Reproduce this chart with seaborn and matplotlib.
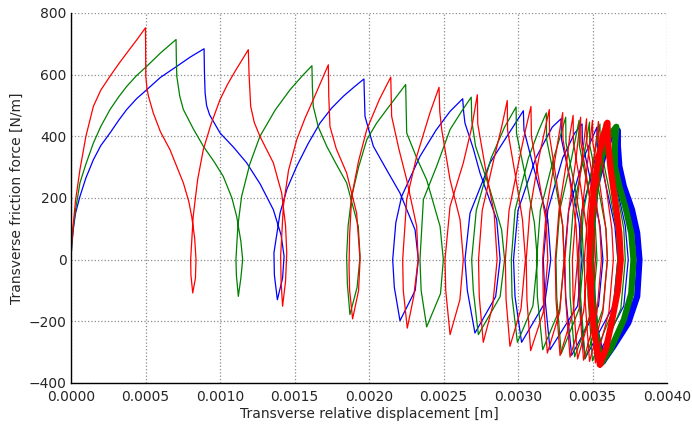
import matplotlib
matplotlib.use("Agg")
import matplotlib.pyplot as plt
import seaborn as sns
import pandas as pd

# ---------------- data (x [m], force [N/m]) ----------------
red_pts = [
    (0, 0), (0.000005, 60), (0.000016, 119), (0.00003, 190), (0.00006, 292), (0.0001, 400),
    (0.00015, 497), (0.0002, 550), (0.000262, 595), (0.00032, 635), (0.000374, 670),
    (0.00044, 712), (0.0005, 752),
    (0.000501, 680), (0.000502, 595), (0.00051, 555), (0.00052, 530), (0.000552, 476),
    (0.0006, 415), (0.000664, 357), (0.000754, 249), (0.00079, 190), (0.00081, 140),
    (0.00083, 70), (0.000839, 0), (0.000835, -60), (0.000817, -108),
    (0.000805, -50), (0.000803, 0), (0.00082, 140), (0.00085, 260), (0.000888, 357), (0.00094, 440),
    (0.001, 519), (0.00105, 568), (0.0011, 610), (0.00119, 681),
    (0.001195, 600), (0.001206, 497), (0.00123, 445), (0.001268, 400), (0.001358, 314),
    (0.001414, 216), (0.00144, 110), (0.001448, 22), (0.00144, -70), (0.00142, -151),
    (0.00141, -70), (0.001407, 11), (0.001425, 173), (0.00146, 290), (0.001515, 389),
    (0.00157, 458), (0.001626, 519), (0.001727, 632),
    (0.00173, 530), (0.001738, 432), (0.00178, 360), (0.00185, 281), (0.001917, 151),
    (0.00194, 0), (0.00193, -100), (0.00189, -192),
    (0.00187, -100), (0.001866, -20), (0.00187, 80), (0.001884, 205), (0.00193, 320),
    (0.001985, 422), (0.00207, 520), (0.002146, 592),
    (0.00215, 500), (0.002152, 465), (0.0022, 360), (0.002253, 259), (0.00232, 108),
    (0.00233, 0), (0.0023, -120), (0.002257, -222),
    (0.00223, -100), (0.002226, 0), (0.002253, 195), (0.00232, 335), (0.002409, 476), (0.00247, 559),
    (0.002475, 480), (0.002488, 422), (0.002544, 259), (0.002611, 130), (0.002633, 0),
    (0.00261, -130), (0.002544, -243),
    (0.002515, -100), (0.00251, 0), (0.002544, 173), (0.002633, 314), (0.00269, 430), (0.002727, 535),
    (0.00273, 440), (0.00278, 300), (0.00284, 150), (0.00286, 0), (0.00283, -150), (0.002767, -268),
    (0.00274, -120), (0.002735, 0), (0.00276, 160), (0.00284, 330), (0.00289, 430), (0.002928, 516),
    (0.00293, 420), (0.00298, 280), (0.00303, 130), (0.00305, 0), (0.00302, -160), (0.002946, -281),
    (0.00292, -130), (0.002915, 0), (0.00294, 160), (0.00301, 330), (0.00305, 420), (0.003087, 497),
    (0.00309, 400), (0.00314, 260), (0.00319, 120), (0.0032, 0), (0.00317, -170), (0.003085, -295),
    (0.00306, -130), (0.003055, 0), (0.00308, 160), (0.00314, 330), (0.00318, 420), (0.00321, 487),
    (0.003212, 400), (0.00326, 250), (0.0033, 110), (0.00331, 0), (0.00328, -170), (0.003197, -303),
    (0.00317, -130), (0.003165, 0), (0.00319, 160), (0.00325, 330), (0.00328, 420), (0.0033, 477),
    (0.003302, 390), (0.00335, 250), (0.00339, 110), (0.0034, 0), (0.00337, -170), (0.003282, -311),
    (0.003255, -130), (0.00325, 0), (0.003275, 160), (0.00333, 330), (0.00335, 410), (0.00337, 468),
    (0.003372, 380), (0.00342, 240), (0.00346, 100), (0.00347, 0), (0.00344, -170), (0.003349, -316),
    (0.00332, -130), (0.003315, 0), (0.00334, 160), (0.00339, 330), (0.00342, 462),
    (0.003422, 380), (0.00347, 240), (0.00351, 100), (0.00352, 0), (0.00349, -170), (0.0034, -322),
    (0.00337, -130), (0.003365, 0), (0.00339, 160), (0.00343, 330), (0.00346, 457),
    (0.003462, 380), (0.00351, 240), (0.00355, 100), (0.00356, 0), (0.00353, -170), (0.00344, -326),
    (0.00341, -130), (0.003405, 0), (0.00343, 160), (0.00347, 330), (0.0035, 452),
    (0.003502, 380), (0.00355, 240), (0.00359, 100), (0.0036, 0), (0.00357, -170), (0.00348, -330),
    (0.00345, -130), (0.003445, 0), (0.00347, 160), (0.00351, 330), (0.00354, 448),
    (0.003542, 380), (0.00359, 240), (0.00363, 100), (0.00364, 0), (0.00361, -170), (0.00352, -335),
    (0.00349, -130), (0.003485, 0), (0.00351, 160), (0.00355, 330), (0.00358, 446),
    (0.003582, 380), (0.00363, 240), (0.00367, 100), (0.00368, 0), (0.00365, -170), (0.00355, -338),
]
red_band = [
    (0.00355, -340), (0.00351, -230), (0.00349, -120), (0.00348, 0), (0.00349, 120), (0.00351, 230),
    (0.00354, 330), (0.00357, 400), (0.0036, 444), (0.003605, 380), (0.00362, 300), (0.00364, 230),
    (0.00366, 162), (0.00368, 86), (0.00369, 0), (0.00367, -100), (0.00363, -200), (0.00359, -290),
    (0.00355, -340),
]

green_pts = [
    (0, 0), (0.000005, 50), (0.000016, 110), (0.00003, 160), (0.00006, 249), (0.0001, 310),
    (0.00015, 378), (0.0002, 432), (0.000262, 487), (0.00032, 528), (0.000374, 562),
    (0.00044, 597), (0.000508, 627), (0.0006, 670), (0.000705, 714),
    (0.000707, 650), (0.00071, 595), (0.00073, 530), (0.000754, 487), (0.00082, 425),
    (0.000888, 368), (0.00096, 318), (0.001022, 270), (0.00108, 200), (0.001112, 140),
    (0.00114, 60), (0.001152, 0), (0.00114, -60), (0.001123, -119),
    (0.00111, -50), (0.001107, 0), (0.00112, 110), (0.001145, 205), (0.0012, 310), (0.001268, 400),
    (0.00137, 485), (0.00147, 551), (0.00155, 595), (0.001617, 629),
    (0.00162, 560), (0.001626, 497), (0.00166, 430), (0.001716, 368), (0.00178, 310),
    (0.00185, 249), (0.001928, 108), (0.00194, 11), (0.00192, -90), (0.001872, -178),
    (0.001855, -80), (0.00185, 11), (0.00186, 110), (0.001884, 205), (0.00193, 300),
    (0.001985, 389), (0.00205, 442), (0.002119, 487), (0.002246, 568),
    (0.00225, 480), (0.002253, 411), (0.00232, 330), (0.002387, 259), (0.002477, 108),
    (0.002499, 0), (0.00248, -110), (0.002387, -218),
    (0.00235, -100), (0.002342, 0), (0.002365, 195), (0.002454, 303), (0.002544, 422),
    (0.00262, 480), (0.002686, 527),
    (0.00269, 450), (0.002715, 368), (0.002812, 227), (0.00289, 97), (0.00291, 0),
    (0.00288, -120), (0.002734, -243),
    (0.0027, -100), (0.002689, 0), (0.00272, 160), (0.00282, 330), (0.00291, 430), (0.002987, 495),
    (0.00299, 410), (0.00305, 270), (0.00311, 120), (0.00313, 0), (0.0031, -150), (0.002996, -268),
    (0.00296, -120), (0.002955, 0), (0.00298, 160), (0.00307, 330), (0.00314, 420), (0.00319, 476),
    (0.003192, 390), (0.00325, 250), (0.0033, 110), (0.00331, 0), (0.00328, -160), (0.003166, -292),
    (0.00313, -120), (0.003125, 0), (0.00315, 160), (0.00324, 330), (0.00329, 410), (0.00332, 462),
    (0.003322, 380), (0.00338, 240), (0.00343, 100), (0.00344, 0), (0.00341, -160), (0.00329, -305),
    (0.00326, -120), (0.003255, 0), (0.00328, 160), (0.00336, 330), (0.00341, 452),
    (0.003412, 370), (0.00347, 230), (0.00352, 100), (0.00353, 0), (0.0035, -160), (0.00338, -315),
    (0.00335, -120), (0.003345, 0), (0.00337, 160), (0.00344, 330), (0.00348, 446),
    (0.003482, 370), (0.00354, 230), (0.00359, 100), (0.0036, 0), (0.00357, -160), (0.00345, -322),
    (0.00342, -120), (0.003415, 0), (0.00344, 160), (0.00351, 330), (0.00355, 440),
    (0.003552, 370), (0.00361, 230), (0.00366, 100), (0.00367, 0), (0.00364, -160), (0.0035, -328),
    (0.00347, -120), (0.003465, 0), (0.00349, 160), (0.00356, 330), (0.0036, 435),
    (0.003602, 370), (0.00366, 230), (0.00371, 100), (0.00372, 0), (0.00369, -160), (0.00354, -332),
]
green_band = [
    (0.00356, -335), (0.00352, -230), (0.0035, -120), (0.00349, 0), (0.0035, 120), (0.00352, 230),
    (0.00356, 330), (0.00361, 400), (0.00366, 431), (0.00365, 370), (0.00365, 303), (0.00368, 238),
    (0.003725, 162), (0.00376, 86), (0.003775, 0), (0.00376, -110), (0.00371, -195), (0.00362, -292),
    (0.00356, -335),
]

blue_pts = [
    (0, 0), (0.000005, 45), (0.000016, 100), (0.00003, 150), (0.00006, 205), (0.0001, 265),
    (0.00015, 324), (0.0002, 370), (0.000262, 411), (0.00032, 452), (0.000374, 487),
    (0.00044, 522), (0.000508, 551), (0.0006, 591), (0.00071, 627), (0.0008, 657), (0.000893, 684),
    (0.000896, 600), (0.0009, 541), (0.00091, 500), (0.00093, 470), (0.001, 411), (0.00109, 365),
    (0.001179, 314), (0.00127, 245), (0.001358, 162), (0.00141, 80), (0.00143, 11), (0.00142, -60),
    (0.001385, -130),
    (0.001365, -50), (0.001362, 22), (0.001403, 151), (0.00145, 230), (0.001515, 303), (0.00159, 375),
    (0.001671, 443), (0.00175, 492), (0.001828, 530), (0.0019, 560), (0.001966, 586),
    (0.00197, 520), (0.001973, 465), (0.002029, 368), (0.00212, 290), (0.002208, 216),
    (0.002309, 97), (0.002331, 0), (0.00231, -100), (0.002208, -198),
    (0.00217, -90), (0.002159, 0), (0.00218, 120), (0.002219, 205), (0.002342, 335), (0.00245, 420),
    (0.002544, 481), (0.002629, 522),
    (0.002635, 480), (0.002644, 443), (0.0027, 360), (0.002745, 281), (0.002857, 130),
    (0.00288, 0), (0.00285, -120), (0.002711, -238),
    (0.00266, -100), (0.002644, 0), (0.002678, 151), (0.002812, 314), (0.002969, 432), (0.003036, 483),
    (0.00304, 420), (0.00311, 290), (0.0032, 130), (0.00322, 0), (0.00318, -140), (0.003024, -268),
    (0.00298, -120), (0.00297, 0), (0.003, 160), (0.00312, 330), (0.00323, 430), (0.003289, 457),
    (0.003292, 390), (0.00335, 260), (0.00341, 120), (0.00343, 0), (0.0034, -150), (0.003215, -292),
    (0.00318, -120), (0.00317, 0), (0.0032, 160), (0.0033, 330), (0.00338, 410), (0.00343, 440),
    (0.003432, 380), (0.00349, 250), (0.00355, 110), (0.00357, 0), (0.00354, -150), (0.00336, -310),
    (0.00332, -120), (0.00331, 0), (0.00334, 160), (0.00344, 330), (0.00353, 430),
    (0.003532, 370), (0.00359, 240), (0.00365, 110), (0.00367, 0), (0.00364, -150), (0.00345, -320),
    (0.00341, -120), (0.0034, 0), (0.00343, 160), (0.00352, 330), (0.0036, 425),
    (0.003602, 370), (0.00366, 240), (0.00372, 110), (0.00374, 0), (0.00371, -150), (0.00352, -326),
    (0.00348, -120), (0.00347, 0), (0.0035, 160), (0.00358, 330), (0.00365, 421),
    (0.003652, 370), (0.00371, 240), (0.00377, 110), (0.00379, 0), (0.00376, -150), (0.00356, -329),
]
blue_band = [
    (0.00357, -330), (0.00352, -230), (0.0035, -120), (0.00349, 0), (0.0035, 120), (0.00352, 230),
    (0.00357, 330), (0.00362, 400), (0.00367, 419), (0.00367, 370), (0.00368, 303), (0.00371, 238),
    (0.003765, 162), (0.0038, 86), (0.003815, 0), (0.0038, -119), (0.00374, -205), (0.00364, -281),
    (0.00357, -330),
]

x_ticks = [0.0, 0.0005, 0.0010, 0.0015, 0.0020, 0.0025, 0.0030, 0.0035, 0.0040]
y_ticks = [-400, -200, 0, 200, 400, 600, 800]
x_label = "Transverse relative displacement [m]"
y_label = "Transverse friction force [N/m]"

# ---------------- plotting ----------------
sns.set_style("white")
plt.rcParams["font.family"] = ["DejaVu Sans"]

fig = plt.figure(figsize=(6.92, 4.28), dpi=100)
ax = fig.add_axes([71 / 692, 45 / 428, 596 / 692, 370 / 428])

def draw(pts, color, lw):
    df = pd.DataFrame(pts, columns=["x", "y"])
    sns.lineplot(data=df, x="x", y="y", sort=False, estimator=None, color=color,
                 linewidth=lw, ax=ax, legend=False)

draw(blue_pts, "#0000ff", 0.9)
draw(blue_band, "#0000ff", 4.5)
draw(green_pts, "#008000", 0.9)
draw(green_band, "#008000", 4.5)
draw(red_pts, "#ff0000", 0.9)
draw(red_band, "#ff0000", 4.5)

ax.set_xlim(0, 0.004)
ax.set_ylim(-400, 800)
ax.set_xticks(x_ticks)
ax.set_yticks(y_ticks)
ax.set_xticklabels([f"{v:.4f}" for v in x_ticks])
ax.set_yticklabels([f"{v:d}".replace("-", "\u2212") for v in y_ticks])
ax.set_xlabel(x_label, fontsize=10, labelpad=2)
ax.set_ylabel(y_label, fontsize=10)
ax.tick_params(axis="both", length=0, labelsize=10)
ax.tick_params(axis="x", pad=5)
ax.tick_params(axis="y", pad=3)
ax.grid(True, color="0.55", linestyle=":", linewidth=0.9)
ax.set_axisbelow(True)
for s in ["top", "right"]:
    ax.spines[s].set_visible(False)
for s in ["left", "bottom"]:
    ax.spines[s].set_color("black")
    ax.spines[s].set_linewidth(1.0)

fig.savefig("out.png", dpi=100)
